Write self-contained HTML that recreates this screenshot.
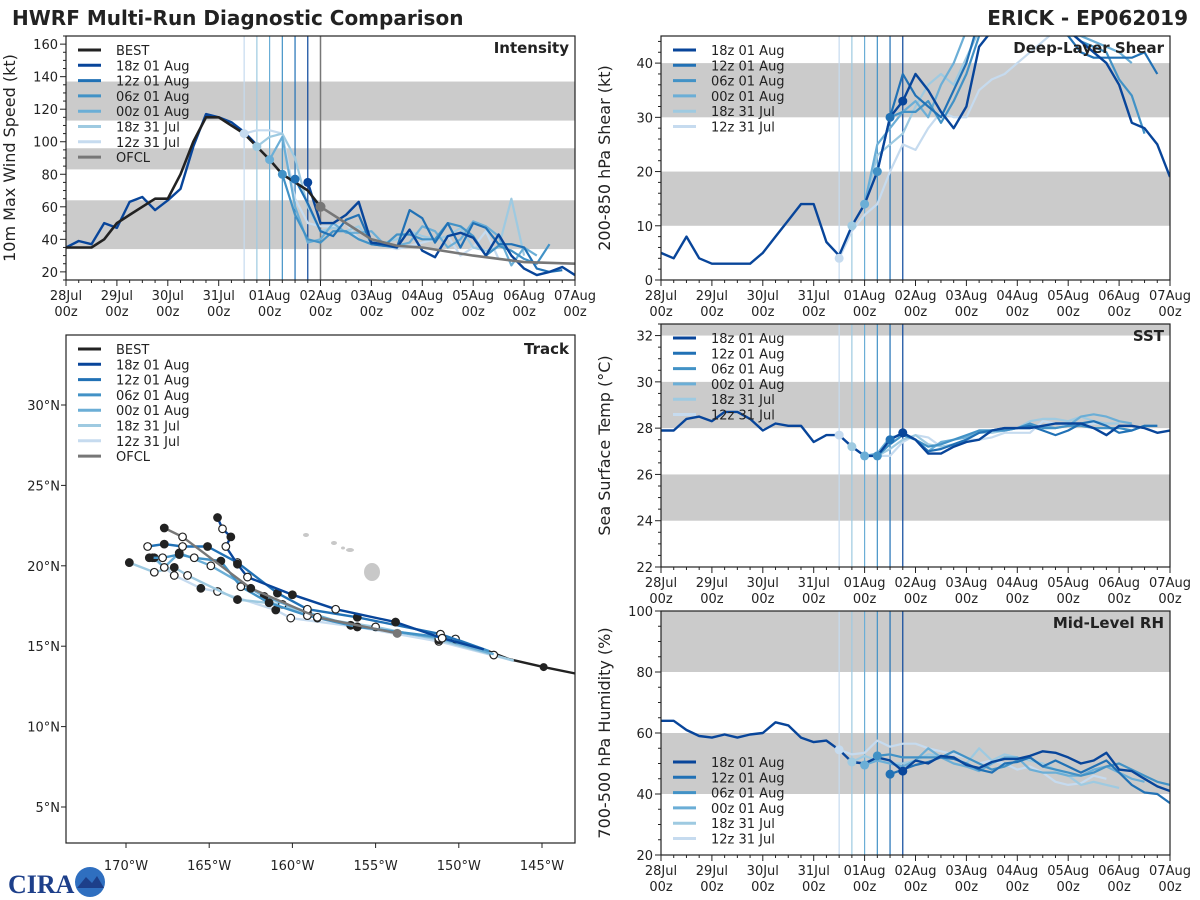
<!DOCTYPE html>
<html><head><meta charset="utf-8"><style>
html,body{margin:0;padding:0;background:#fff;}
svg{display:block;font-family:"DejaVu Sans","Liberation Sans",sans-serif;}
</style></head><body>
<svg id="c" width="1200" height="900" viewBox="0 0 1200 900" xmlns="http://www.w3.org/2000/svg">
<rect width="1200" height="900" fill="#fff"/>
<text x="12" y="25" font-size="20" font-weight="bold" fill="#222">HWRF Multi-Run Diagnostic Comparison</text>
<text x="1188" y="25" font-size="20" font-weight="bold" fill="#222" text-anchor="end">ERICK - EP062019</text>
<g>
<text x="8" y="893" font-size="26" font-weight="bold" fill="#1d3f8a" font-family="Liberation Serif, serif">CIRA</text>
<circle cx="90" cy="882" r="15" fill="#2f6fc0"/>
<path d="M77 888 L86 877 L92 883 L97 876 L104 888 Z" fill="#1d3f8a"/>
</g>
</svg>
<script>
// ---------- data ----------
var runNames = ["18z 01 Aug","12z 01 Aug","06z 01 Aug","00z 01 Aug","18z 31 Jul","12z 31 Jul"];
var runInit = [114,108,102,96,90,84];
var dateTicks = ["28Jul","29Jul","30Jul","31Jul","01Aug","02Aug","03Aug","04Aug","05Aug","06Aug","07Aug"];

var bestInt = [35,35,35,40,50,55,60,65,65,80,100,115,115,110,105,97,89,80,75,70,60];
var ofclHours = [120,132,144,156,168,192,216,240];
var ofclInt = [60,50,40,36,35,30,26,25];
var hist18Int = [35,39,37,50,47,63,66,58,64,71,97,117,115,112,106,98];
var int18z01 = [75,50,50,55,63,38,37,35,46,33,29,42,44,41,30,43,30,22,18,20,23,18];
var int12z01 = [77,62,45,42,52,55,37,36,35,58,53,38,50,35,50,47,37,37,35,22,20,21];
var int06z01 = [80,55,40,38,45,45,40,37,36,43,43,40,40,50,48,42,30,36,33,28,25,37];
var int00z01 = [89,103,60,38,40,50,44,44,45,37,36,38,48,45,35,40,51,48,42,24,35,30];
var int18z31 = [97,103,105,90,60,45,47,45,48,38,38,40,45,42,40,42,47,35,33,35,65,30];
var int12z31 = [105,107,107,105,65,50,48,48,50,40,37,36,34,36,38,40,42,30,35,45,28,27];

var shr18z01 = [5,4,8,4,3,3,3,3,5,8,11,14,14,7,4.5,10,14,20,30,33,38,35,31,28,32,43,46,50,52,52,52,50,46,44,42,40,36,29,28,25,19,19];
var shr12z01 = [30,38,34,32,30,35,40,48,52,55,55,55,52,50,45,42,41,41,41,41,42,38];
var shr06z01 = [20,30,31,31,33,29,33,38,45,52,55,55,55,55,50,46,44,43,42,37,34,27];
var shr00z01 = [14,25,28,31,33,30,36,40,46,52,55,55,55,55,52,48,46,45,44,43,42,40];
var shr18z31 = [10,14,23,25,27,32,36,38,36,41,46,50,50,50,50,48,46,45,45,44,43,42];
var shr12z31 = [4,9,12,14,20,25,24,28,31,30,30,35,37,38,40,42,44,46,46,46,46,46,46];

var sst18z01 = [27.9,27.9,28.4,28.5,28.3,28.7,28.7,28.4,27.9,28.2,28.1,28.1,27.4,27.7,27.7,27.2,26.8,26.8,27.5,27.8,27.5,26.9,26.9,27.2,27.4,27.5,27.9,28.0,28.0,28.0,28.1,28.2,28.2,28.2,28.0,27.7,28.1,28.1,28.0,27.8,27.9];
var sst12z01 = [27.5,27.8,27.5,27.0,27.1,27.3,27.5,27.8,27.9,28.0,28.0,28.1,27.9,27.7,27.9,28.2,28.3,28.1,27.8,27.9,28.1,28.1];
var sst06z01 = [26.8,27.3,27.7,27.5,27.2,27.3,27.5,27.7,27.9,27.9,27.9,28.0,28.2,28.0,28.0,28.1,28.1,28.0,28.0,28.0,27.9,28.1,28.1];
var sst00z01 = [26.8,26.9,27.6,27.7,27.5,27.0,27.4,27.5,27.6,27.9,27.9,27.9,28.0,28.0,28.1,28.0,28.1,28.5,28.6,28.5,28.3,28.2];
var sst18z31 = [27.2,26.8,26.8,27.1,27.5,27.7,27.3,27.2,27.3,27.5,27.8,27.8,27.9,28.0,28.3,28.4,28.4,28.3,28.5,28.3,28.2,28.2];
var sst12z31 = [27.7,27.2,26.8,26.8,26.8,27.4,27.7,27.6,27.2,27.2,27.5,27.5,27.6,27.8,27.8,27.8,28.3,28.2,28.1,28.1,28.2,28.2];

var rh18z01 = [64,64,61,59,58.5,59.5,58.5,59.5,60,63.5,62.5,58.5,57,57.5,54.5,50.5,50,52,51,47.5,51,50,52.5,52,49.5,48.5,50.5,51.5,51.5,52.5,54,53.5,52,50,51,53.5,48,47.5,45,42.5,41];
var rh12z01 = [46.5,48,49.5,50.5,52,51.5,50,48,47,50,50.5,52,49,51,49,47,49,51,47,43,40.5,40,37];
var rh06z01 = [52.5,53,52,52,52,52,54,52,50,48,49,51,52,49,48,47,46,47,49,50,48,46,44,43];
var rh00z01 = [49.5,51,50,49,51,55,52,50,49,47.5,50,52,52,48,47,47,46,46,48,49,47,45,44];
var rh18z31 = [50.5,52.5,51,50,50,51,53,52.5,52,50,55,51,53,52,51,50,48,46,43,44,43,42];
var rh12z31 = [54.5,53,53.5,57.5,55.5,56.5,56.5,55,54,53,52,50,51,50,48,49,47,44,43,43.5,46,45];

var trkBestLon = [143.0,144.9,147.0,148.5,151.0,153.7];
var trkBestLat = [13.3,13.7,14.2,14.8,15.3,15.8];
var trkOfclLon = [153.7,158.5,162.5,166.6,167.7];
var trkOfclLat = [15.8,16.8,18.6,21.8,22.35];
var trk18z01Lon = [148.5,151.0,153.8,157.4,160.0,162.7,163.3,164.0,163.7,164.2,164.5];
var trk18z01Lat = [14.8,15.5,16.5,17.3,18.2,19.3,20.1,21.2,21.8,22.3,23.0];
var trk12z01Lon = [148.5,151.1,156.1,159.1,160.9,163.3,165.1,166.6,167.7,168.7];
var trk12z01Lat = [14.8,15.75,16.8,17.3,18.3,20.2,21.2,21.2,21.35,21.2];
var trk06z01Lon = [148.2,150.2,156.1,159.1,161.4,163.1,164.3,165.9,166.8,167.8,168.6];
var trk06z01Lat = [14.7,15.45,16.2,16.9,17.7,18.7,20.3,20.5,20.7,20.5,20.5];
var trk00z01Lon = [147.9,151.2,156.5,159.1,161.7,164.9,166.8,167.7,168.3];
var trk00z01Lat = [14.5,15.5,16.3,17.1,18.1,20.0,20.8,19.9,20.5];
var trk18z31Lon = [146.7,147.9,151.2,155.0,158.5,160.6,163.3,166.3,167.1,168.3,169.8];
var trk18z31Lat = [14.1,14.45,15.4,16.2,16.75,17.6,17.9,19.4,19.9,19.6,20.2];
var trk12z31Lon = [146.7,151.2,156.1,160.1,161.0,164.5,165.5,167.1,168.4];
var trk12z31Lat = [14.1,15.3,16.2,16.75,17.25,18.4,18.6,19.4,20.5];
var lonTicks = [170,165,160,155,150,145];
var latTicks = [5,10,15,20,25,30];

// ---------- drawing ----------
var NS = "http://www.w3.org/2000/svg";
var svg = document.getElementById("c");
var colors = ["#08459a","#2171b5","#4292c6","#6baed6","#9ecae1","#c6dbef"];
function mk(tag, attrs, parent){
  var e = document.createElementNS(NS, tag);
  for (var k in attrs) e.setAttribute(k, attrs[k]);
  (parent||svg).appendChild(e);
  return e;
}
function panel(p){
  p.sx = function(h){ return p.x0 + (h/240)*(p.x1-p.x0); };
  p.sy = function(v){ return p.y1 - (v-p.ymin)/(p.ymax-p.ymin)*(p.y1-p.y0); };
  var g = mk("g", {});
  
  
  var cp = mk("clipPath", {id:"clip-"+p.name}, g);
  mk("rect", {x:p.x0,y:p.y0,width:p.x1-p.x0,height:p.y1-p.y0}, cp);
  p.g = g;
  p.bands.forEach(function(b){
    var y1 = Math.max(p.sy(b[1]), p.y0);
    var r = mk("rect", {x:p.x0, y:y1, width:p.x1-p.x0, height:p.sy(b[0])-y1, fill:"#cbcbcb"}, g);
    
    
  });
  p.plot = mk("g", {"clip-path":"url(#clip-"+p.name+")"}, g);
  return p;
}
function axes(p, showXLabels){
  var g = p.g;
  var fr = mk("rect", {x:p.x0,y:p.y0,width:p.x1-p.x0,height:p.y1-p.y0,fill:"none",stroke:"#222","stroke-width":1.2}, g);
  
  
  for (var h=0; h<=240; h+=6){
    var big = h%24===0;
    mk("line",{x1:p.sx(h),x2:p.sx(h),y1:p.y1,y2:p.y1+(big?6:3),stroke:"#222","stroke-width":1}, g);
  }
  if (showXLabels){
    dateTicks.forEach(function(d,i){
      var t = mk("text",{x:p.sx(i*24),y:p.y1+20,"font-size":13,"text-anchor":"middle",fill:"#222"}, g);
      t.textContent = d;
      
      
      var t2 = mk("text",{x:p.sx(i*24),y:p.y1+36,"font-size":13,"text-anchor":"middle",fill:"#222"}, g);
      t2.textContent = "00z";
      
      
    });
  }
  for (var v=p.ymin; v<=p.ymax+1e-6; v+=p.minor){
    var vv = Math.round(v*100)/100;
    var isMaj = Math.abs(Math.round(vv/p.major)*p.major - vv) < 1e-6;
    mk("line",{x1:p.x0-(isMaj?6:3),x2:p.x0,y1:p.sy(vv),y2:p.sy(vv),stroke:"#222","stroke-width":1}, g);
  }
  p.yTicks.forEach(function(v){
    var t = mk("text",{x:p.x0-8,y:p.sy(v)+5,"font-size":13,"text-anchor":"end",fill:"#222"}, g);
    t.textContent = v;
    
    
  });
  var cy = (p.y0+p.y1)/2, cx = p.x0-51;
  var yl = mk("text",{x:cx,y:cy,"font-size":16,"text-anchor":"middle",fill:"#222",transform:"rotate(-90 "+cx+" "+cy+")"}, g);
  yl.textContent = p.ylabel;
  
  
  var tt = mk("text",{x:p.x1-6,y:p.y0+17,"font-size":15,"font-weight":"bold","text-anchor":"end",fill:"#222"}, g);
  tt.textContent = p.title;
  
  
}
function series(p, hours, vals, color, w, name){
  var pts = vals.map(function(v,i){ return p.sx(hours[i]).toFixed(1)+","+p.sy(v).toFixed(1); }).join(" ");
  var l = mk("polyline",{points:pts,fill:"none",stroke:color,"stroke-width":w,"stroke-linejoin":"round"}, p.plot);
  
  
}
function hrs(start, n){ var a=[]; for (var i=0;i<n;i++) a.push(start+i*6); return a; }
function initLines(p, withOfcl){
  runInit.forEach(function(h,i){
    var l = mk("line",{x1:p.sx(h),x2:p.sx(h),y1:p.y0,y2:p.y1,stroke:colors[i],"stroke-width":1.2}, p.plot);
    
    
  });
  if (withOfcl){
    var l2 = mk("line",{x1:p.sx(120),x2:p.sx(120),y1:p.y0,y2:p.y1,stroke:"#777","stroke-width":1.5}, p.plot);
    
    
  }
}
function runs(p, hist, arrs){
  for (var i=5;i>=1;i--){
    series(p, hrs(runInit[i], arrs[i].length), arrs[i], colors[i], 2.2, 'run-line-'+runNames[i].replace(/ /g,'-').toLowerCase());
  }
  series(p, hrs(0, hist.length), hist, colors[0], 2.4, 'run-line-18z-01-aug');
  for (var j=5;j>=0;j--){
    var d = mk("circle",{cx:p.sx(runInit[j]),cy:p.sy(arrs[j][0]),r:4.5,fill:colors[j]}, p.plot);
    
    
  }
}
function legend(p, x, y, entries){
  var g = mk("g",{}, p.g);
  
  
  entries.forEach(function(e,i){
    var yy = y + i*15.3;
    mk("line",{x1:x,x2:x+23,y1:yy,y2:yy,stroke:e[1],"stroke-width":3}, g);
    var t = mk("text",{x:x+38,y:yy+5,"font-size":13,fill:"#222"}, g);
    t.textContent = e[0];
    
    
  });
}
var runEntries = runNames.map(function(n,i){ return [n, colors[i]]; });

// Intensity
var pI = panel({name:"intensity",x0:66,x1:575,y0:36,y1:280,ymin:15,ymax:165,major:20,minor:5,yTicks:[20,40,60,80,100,120,140,160],bands:[[34,64],[83,96],[113,137]],ylabel:"10m Max Wind Speed (kt)",title:"Intensity"});
initLines(pI, true);
var intArrs = [int18z01,int12z01,int06z01,int00z01,int18z31,int12z31];
for (var i=5;i>=1;i--) series(pI, hrs(runInit[i], intArrs[i].length), intArrs[i], colors[i], 2.2, 'intensity-run-'+i);
series(pI, hrs(0,hist18Int.length), hist18Int, colors[0], 2.4, 'intensity-run-history');
series(pI, hrs(runInit[0], int18z01.length), int18z01, colors[0], 2.4, 'intensity-run-18z');
series(pI, hrs(0,bestInt.length), bestInt, "#222", 2.6, 'best-track-intensity');
series(pI, ofclHours, ofclInt, "#777", 2.6, 'ofcl-intensity');
for (var j=5;j>=0;j--){
  var d = mk("circle",{cx:pI.sx(runInit[j]),cy:pI.sy(intArrs[j][0]),r:4.5,fill:colors[j]}, pI.plot);
  
  
}
var od = mk("circle",{cx:pI.sx(120),cy:pI.sy(60),r:5,fill:"#777"}, pI.plot);


axes(pI, true);
legend(pI, 78, 50, [["BEST","#222"]].concat(runEntries).concat([["OFCL","#777"]]));

// Shear
var pS = panel({name:"shear",x0:661,x1:1170,y0:36,y1:280,ymin:0,ymax:45,major:10,minor:2,yTicks:[0,10,20,30,40],bands:[[10,20],[30,40]],ylabel:"200-850 hPa Shear (kt)",title:"Deep-Layer Shear"});
initLines(pS,false);
var shrHist = shr18z01.slice(0,41);
runs(pS, shrHist, [shrHist.slice(19),shr12z01,shr06z01,shr00z01,shr18z31,shr12z31]);
axes(pS, true);
legend(pS, 673, 50, runEntries);

// SST
var pT = panel({name:"sst",x0:661,x1:1170,y0:324,y1:567,ymin:22,ymax:32.5,major:2,minor:0.5,yTicks:[22,24,26,28,30,32],bands:[[24,26],[28,30],[32,33]],ylabel:"Sea Surface Temp (°C)",title:"SST"});
initLines(pT,false);
runs(pT, sst18z01, [sst18z01.slice(19),sst12z01,sst06z01,sst00z01,sst18z31,sst12z31]);
axes(pT, true);
legend(pT, 673, 338, runEntries);

// RH
var pR = panel({name:"rh",x0:661,x1:1170,y0:611,y1:855,ymin:20,ymax:100,major:20,minor:5,yTicks:[20,40,60,80,100],bands:[[40,60],[80,100]],ylabel:"700-500 hPa Humidity (%)",title:"Mid-Level RH"});
initLines(pR,false);
runs(pR, rh18z01, [rh18z01.slice(19),rh12z01,rh06z01,rh00z01,rh18z31,rh12z31]);
axes(pR, true);
legend(pR, 673, 762, runEntries);

// Track
var tk = {x0:66,x1:575,y0:335,y1:843};
function tx(lon){ return 126 + (170-lon)*16.64; }
function ty(lat){ return 405 - (lat-30)*16.08; }
var tg = mk("g",{});


var tcp = mk("clipPath",{id:"clip-track"}, tg);
mk("rect",{x:tk.x0,y:tk.y0,width:tk.x1-tk.x0,height:tk.y1-tk.y0}, tcp);
var tp = mk("g",{"clip-path":"url(#clip-track)"}, tg);
var isl = [[372,572,8,9],[350,550,4,2],[334,543,3,2],[306,535,3,2],[343,548,2,1.5]];
isl.forEach(function(s){
  var e = mk("ellipse",{cx:s[0],cy:s[1],rx:s[2],ry:s[3],fill:"#c8c8c8"}, tp);
  
  
});
function track(lons, lats, color, name, dots){
  var pts = lons.map(function(l,i){ return tx(l).toFixed(1)+","+ty(lats[i]).toFixed(1); }).join(" ");
  var l = mk("polyline",{points:pts,fill:"none",stroke:color,"stroke-width":2.4,"stroke-linejoin":"round"}, tp);
  
  
  if (dots){
    lons.forEach(function(lo,i){
      if (i===0) return;
      var c = mk("circle",{cx:tx(lo),cy:ty(lats[i]),r:3.8,fill:(i%2?"#fff":"#222"),stroke:"#222","stroke-width":1.2}, tp);
      
      
    });
  }
}
track(trkBestLon, trkBestLat, "#222", "best-track", false);
var bd = mk("circle",{cx:tx(144.9),cy:ty(13.7),r:4,fill:"#222"}, tp);


track(trk12z31Lon, trk12z31Lat, colors[5], "track-12z-31-jul", true);
track(trk18z31Lon, trk18z31Lat, colors[4], "track-18z-31-jul", true);
track(trk00z01Lon, trk00z01Lat, colors[3], "track-00z-01-aug", true);
track(trk06z01Lon, trk06z01Lat, colors[2], "track-06z-01-aug", true);
track(trk12z01Lon, trk12z01Lat, colors[1], "track-12z-01-aug", true);
track(trk18z01Lon, trk18z01Lat, colors[0], "track-18z-01-aug", true);
track(trkOfclLon, trkOfclLat, "#777", "ofcl-track", true);
var ofd = mk("circle",{cx:tx(153.7),cy:ty(15.8),r:4.5,fill:"#777"}, tp);


var tf = mk("rect",{x:tk.x0,y:tk.y0,width:tk.x1-tk.x0,height:tk.y1-tk.y0,fill:"none",stroke:"#222","stroke-width":1.2}, tg);


lonTicks.forEach(function(l){
  mk("line",{x1:tx(l),x2:tx(l),y1:tk.y1,y2:tk.y1+5,stroke:"#222"}, tg);
  var t = mk("text",{x:tx(l),y:tk.y1+27,"font-size":13,"text-anchor":"middle",fill:"#222"}, tg);
  t.textContent = l+"°W";
  
  
});
latTicks.forEach(function(l){
  mk("line",{x1:tk.x0-5,x2:tk.x0,y1:ty(l),y2:ty(l),stroke:"#222"}, tg);
  var t = mk("text",{x:tk.x0-6,y:ty(l)+5,"font-size":13,"text-anchor":"end",fill:"#222"}, tg);
  t.textContent = l+"°N";
  
  
});
var ttl = mk("text",{x:tk.x1-6,y:tk.y0+19,"font-size":15,"font-weight":"bold","text-anchor":"end",fill:"#222"}, tg);
ttl.textContent = "Track";


var tl = {name:"track", g:tg};
legend(tl, 78, 349, [["BEST","#222"]].concat(runEntries).concat([["OFCL","#777"]]));
</script>
</body></html>
